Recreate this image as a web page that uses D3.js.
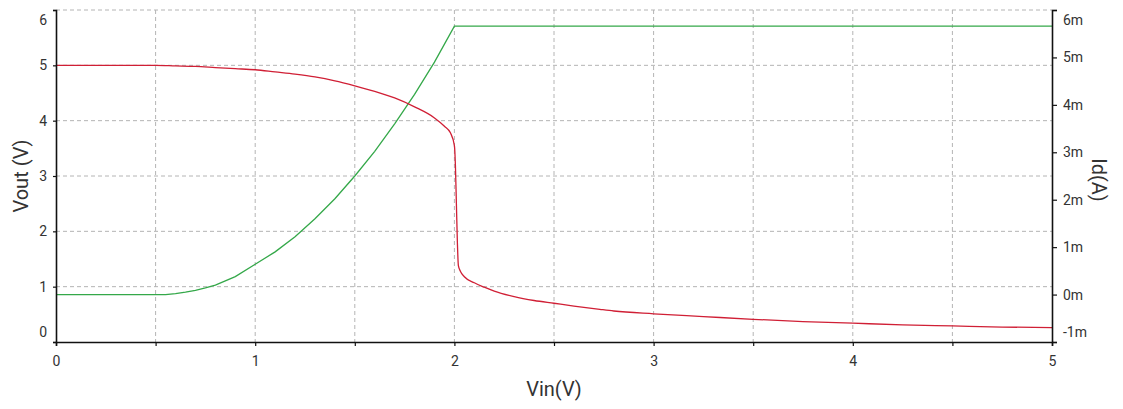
<!DOCTYPE html>
<html>
<head>
<meta charset="utf-8">
<script src="https://cdn.jsdelivr.net/npm/d3@7"></script>
<style>
  body { margin:0; background:#fff; }
  text { font-family: Roboto, "Liberation Sans", sans-serif; fill:#333; }
</style>
</head>
<body>
<div id="chart-area"></div>
<script>
// Vout vs Vin (left axis, volts)
const vinOut = [0, 0.5, 0.6, 0.7, 0.8, 0.9, 1.0, 1.1, 1.2, 1.3, 1.4, 1.5, 1.6, 1.7, 1.8, 1.9, 1.95, 1.98, 2.0,
  2.005, 2.01, 2.015, 2.02, 2.03, 2.05, 2.1, 2.15, 2.2, 2.3, 2.4, 2.5, 2.6, 2.73, 2.8, 3.0, 3.25, 3.5, 3.75, 4.0, 4.25, 4.5, 4.75, 5.0];
const vout = [5.0, 5.0, 4.99, 4.98, 4.96, 4.94, 4.92, 4.88, 4.84, 4.79, 4.72, 4.63, 4.53, 4.41, 4.25, 4.05, 3.9, 3.78, 3.55,
  3.2, 2.5, 1.8, 1.38, 1.28, 1.18, 1.07, 0.99, 0.92, 0.82, 0.75, 0.7, 0.65, 0.59, 0.56, 0.51, 0.46, 0.41, 0.37, 0.34, 0.31, 0.29, 0.27, 0.26];

// Id vs Vin (right axis, mA)
const vinId = [0, 0.5, 0.55, 0.6, 0.65, 0.7, 0.75, 0.8, 0.9, 1.0, 1.1, 1.2, 1.3, 1.4, 1.5, 1.6, 1.7, 1.8, 1.9, 2.0, 5.0];
const idMilli = [0, 0, 0, 0.02, 0.05, 0.09, 0.14, 0.2, 0.38, 0.64, 0.9, 1.22, 1.6, 2.02, 2.5, 3.02, 3.6, 4.22, 4.9, 5.66, 5.66];

// ticks
const xTicks = [0, 1, 2, 3, 4, 5];
const xMinorTicks = [0.5, 1.5, 2.5, 3.5, 4.5];
const leftTicks = [0, 1, 2, 3, 4, 5, 6];
const rightTicks = [-1, 0, 1, 2, 3, 4, 5, 6];
const rightTickLabels = ['-1m', '0m', '1m', '2m', '3m', '4m', '5m', '6m'];

const margin = {left:56, right:71, top:10, bottom:67};
const width = 1123 - margin.left - margin.right;
const height = 409 - margin.top - margin.bottom;

const svg = d3.select('#chart-area').append('svg')
    .attr('width', 1123)
    .attr('height', 409);

const g = svg.append('g')
    .attr('transform', 'translate(' + margin.left + ',' + margin.top + ')');

const x = d3.scaleLinear().domain([0, 5]).range([0, width]);
const yLeft = d3.scaleLinear().domain([0, 6]).range([height, 0]);
const yRight = d3.scaleLinear().domain([-1, 6]).range([height, 0]);

// dashed grid
g.selectAll('.hgrid')
    .data(leftTicks.slice(1))
    .enter().append('line')
    .attr('class', 'hgrid')
    .attr('x1', 0).attr('x2', width)
    .attr('y1', d => yLeft(d)).attr('y2', d => yLeft(d))
    .attr('stroke', '#b4b4b4')
    .attr('stroke-dasharray', '4,3');

g.selectAll('.vgrid')
    .data(xMinorTicks.concat(xTicks.slice(1, 5)))
    .enter().append('line')
    .attr('class', 'vgrid')
    .attr('x1', d => x(d)).attr('x2', d => x(d))
    .attr('y1', 0).attr('y2', height)
    .attr('stroke', '#b4b4b4')
    .attr('stroke-dasharray', '4,3');

// curves
const redLine = d3.line()
    .x((d, i) => x(vinOut[i]))
    .y(d => yLeft(d))
    .curve(d3.curveMonotoneX);

const greenLine = d3.line()
    .x((d, i) => x(vinId[i]))
    .y(d => yRight(d));

g.append('path')
    .attr('d', greenLine(idMilli))
    .attr('fill', 'none')
    .attr('stroke', '#34a849')
    .attr('stroke-width', 1.3);

g.append('path')
    .attr('d', redLine(vout))
    .attr('fill', 'none')
    .attr('stroke', '#d01f35')
    .attr('stroke-width', 1.3);

// axes
const xAxisGroup = g.append('g')
    .attr('transform', 'translate(0,' + height + ')')
    .call(d3.axisBottom(x).tickValues(xTicks.concat(xMinorTicks))
        .tickFormat(d => Number.isInteger(d) ? d : '')
        .tickSize(4).tickPadding(10));

const yAxisGroup = g.append('g')
    .call(d3.axisLeft(yLeft).tickValues(leftTicks).tickFormat(d3.format('d'))
        .tickSize(3).tickPadding(6));

const yRightGroup = g.append('g')
    .attr('transform', 'translate(' + width + ',0)')
    .call(d3.axisRight(yRight).tickValues(rightTicks)
        .tickFormat((d, i) => rightTickLabels[i])
        .tickSize(5).tickPadding(6));

[xAxisGroup, yAxisGroup, yRightGroup].forEach(a => {
    a.select('.domain').attr('stroke', '#111').attr('stroke-width', 1.6);
    a.selectAll('.tick line').attr('stroke', '#111').attr('stroke-width', 1.2);
    a.selectAll('.tick text').attr('font-size', '14px').attr('fill', '#333')
        .attr('font-family', 'Roboto, "Liberation Sans", sans-serif');
});

// end labels pushed inside the axis span
yAxisGroup.selectAll('.tick text')
    .attr('dy', d => d === 6 ? '1.05em' : d === 0 ? '-0.4em' : '0.32em');
yRightGroup.selectAll('.tick text')
    .attr('dy', d => d === 6 ? '1.05em' : d === -1 ? '-0.4em' : '0.32em');

// axis titles
g.append('text')
    .attr('x', width / 2)
    .attr('y', height + 54)
    .attr('font-size', '20px')
    .attr('text-anchor', 'middle')
    .text('Vin(V)');

g.append('text')
    .attr('transform', 'rotate(-90)')
    .attr('x', -166)
    .attr('y', -28)
    .attr('font-size', '20px')
    .attr('text-anchor', 'middle')
    .text('Vout (V)');

g.append('text')
    .attr('transform', 'translate(' + (width + 40) + ',170) rotate(90)')
    .attr('font-size', '20px')
    .attr('text-anchor', 'middle')
    .text('Id(A)');
</script>
</body>
</html>
